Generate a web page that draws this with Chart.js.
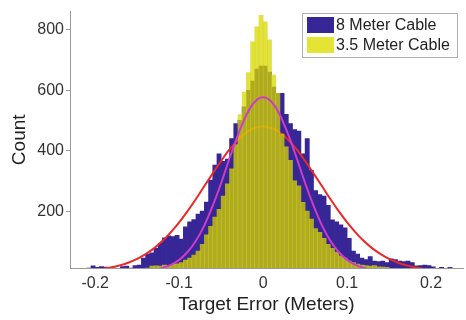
<!DOCTYPE html>
<html>
<head>
<meta charset="utf-8">
<script src="https://cdn.jsdelivr.net/npm/chart.js@4.4.1/dist/chart.umd.min.js"></script>
<style>
  html, body { margin: 0; padding: 0; background: #fff; }
  #wrap { width: 466px; height: 320px; }
</style>
</head>
<body>
<div id="wrap"><canvas id="chart" width="466" height="320"></canvas></div>
<script>
// histogram bin centres (bin width 0.005 m)
const binCenters = [
  -0.2275, -0.2225, -0.2175, -0.2125, -0.2075, -0.2025, -0.1975, -0.1925, -0.1875, -0.1825,
  -0.1775, -0.1725, -0.1675, -0.1625, -0.1575, -0.1525, -0.1475, -0.1425, -0.1375, -0.1325,
  -0.1275, -0.1225, -0.1175, -0.1125, -0.1075, -0.1025, -0.0975, -0.0925, -0.0875, -0.0825,
  -0.0775, -0.0725, -0.0675, -0.0625, -0.0575, -0.0525, -0.0475, -0.0425, -0.0375, -0.0325,
  -0.0275, -0.0225, -0.0175, -0.0125, -0.0075, -0.0025, 0.0025, 0.0075, 0.0125, 0.0175,
  0.0225, 0.0275, 0.0325, 0.0375, 0.0425, 0.0475, 0.0525, 0.0575, 0.0625, 0.0675,
  0.0725, 0.0775, 0.0825, 0.0875, 0.0925, 0.0975, 0.1025, 0.1075, 0.1125, 0.1175,
  0.1225, 0.1275, 0.1325, 0.1375, 0.1425, 0.1475, 0.1525, 0.1575, 0.1625, 0.1675,
  0.1725, 0.1775, 0.1825, 0.1875, 0.1925, 0.1975, 0.2025, 0.2075, 0.2125, 0.2175,
  0.2225, 0.2275
];

const cable8m = [
  0, 0, 0, 10, 12, 19, 14, 17, 15, 10,
  12, 11, 17, 18, 12, 20, 22, 45, 58, 62,
  77, 94, 112, 118, 116, 120, 108, 148, 165, 172,
  190, 200, 230, 303, 352, 390, 365, 372, 440, 490,
  500, 545, 600, 630, 670, 680, 680, 660, 610, 590,
  590, 520, 490, 470, 465, 390, 440, 335, 268, 255,
  250, 219, 171, 165, 155, 145, 110, 68, 58, 45,
  40, 50, 35, 33, 35, 30, 42, 40, 35, 33,
  35, 30, 19, 20, 22, 20, 16, 10, 14, 8,
  14, 10
];

const cable35m = [
  0, 0, 0, 0, 0, 0, 0, 0, 0, 0,
  0, 0, 0, 0, 0, 0, 0, 8, 12, 18,
  19, 18, 22, 20, 24, 26, 30, 38, 45, 55,
  68, 90, 122, 150, 180, 206, 250, 290, 340, 420,
  519, 594, 658, 760, 810, 848, 826, 767, 650, 590,
  455, 413, 368, 300, 284, 229, 200, 174, 142, 130,
  110, 90, 77, 65, 52, 45, 35, 30, 25, 22,
  20, 18, 20, 16, 15, 14, 10, 8, 0, 0,
  0, 0, 0, 0, 0, 0, 0, 0, 0, 0,
  0, 0
];

// fitted normal curves
const fitX = [
  -0.22, -0.21, -0.20, -0.19, -0.18, -0.17, -0.16, -0.15, -0.14, -0.13, -0.12,
  -0.11, -0.10, -0.09, -0.08, -0.07, -0.06, -0.05, -0.04, -0.03, -0.02, -0.01,
  0,
  0.01, 0.02, 0.03, 0.04, 0.05, 0.06, 0.07, 0.08, 0.09, 0.10, 0.11,
  0.12, 0.13, 0.14, 0.15, 0.16, 0.17, 0.18, 0.19, 0.20, 0.21, 0.22
];
const fitWide = [
  2.6, 4, 6.4, 9.7, 14.5, 21, 30, 42, 58, 77, 101,
  130, 163, 200, 240, 283, 325, 366, 404, 435, 460, 475,
  480,
  475, 460, 435, 404, 366, 325, 283, 240, 200, 163, 130,
  101, 77, 58, 42, 30, 21, 14.5, 9.7, 6.4, 4, 2.6
];
const fitNarrow = [
  0, 0, 0, 0, 0, 0.1, 0.5, 1.3, 2.9, 6, 11.8,
  22, 39, 65, 102, 153, 218, 293, 375, 452, 518, 562,
  577,
  562, 518, 452, 375, 293, 218, 153, 102, 65, 39, 22,
  11.8, 6, 2.9, 1.3, 0.5, 0.1, 0, 0, 0, 0, 0
];

const xTicks = [-0.2, -0.1, 0, 0.1, 0.2];
const yTicks = [200, 400, 600, 800];
const seriesNames = ['8 Meter Cable', '3.5 Meter Cable'];

const BLUE = 'rgb(54,38,150)';
const YELLOW = 'rgba(215,215,0,0.75)';
const YELLOW_KEY = 'rgb(228,228,52)';
const FONT = '"Liberation Sans", Arial, Helvetica, sans-serif';

function pts(xs, ys) {
  return xs.map((x, i) => ({ x: x, y: ys[i] }));
}

// legend box inside the plot, top right
const insideLegend = {
  id: 'insideLegend',
  afterDraw(chart) {
    const ctx = chart.ctx;
    const x0 = 302, y0 = 13, w = 155, h = 44;
    ctx.save();
    ctx.fillStyle = '#fff';
    ctx.fillRect(x0, y0, w, h);
    ctx.strokeStyle = '#b0b0b0';
    ctx.lineWidth = 1;
    ctx.strokeRect(x0 + 0.5, y0 + 0.5, w, h);
    const keys = [BLUE, YELLOW_KEY];
    ctx.font = '16px ' + FONT;
    ctx.textBaseline = 'middle';
    ctx.fillStyle = '#222';
    keys.forEach((c, i) => {
      const yy = y0 + 4 + i * 20;
      ctx.fillStyle = c;
      ctx.fillRect(x0 + 5, yy, 27, 16);
      ctx.fillStyle = '#222';
      ctx.fillText(seriesNames[i], x0 + 34, yy + 9);
    });
    ctx.restore();
  }
};

new Chart(document.getElementById('chart').getContext('2d'), {
  type: 'bar',
  data: {
    datasets: [
      {
        type: 'bar',
        label: seriesNames[0],
        data: pts(binCenters, cable8m),
        backgroundColor: BLUE,
        borderWidth: 0,
        barPercentage: 1,
        categoryPercentage: 1,
        grouped: false,
        order: 4
      },
      {
        type: 'line',
        label: 'fit wide',
        data: pts(fitX, fitWide),
        borderColor: 'rgb(235,40,40)',
        borderWidth: 2,
        pointRadius: 0,
        cubicInterpolationMode: 'monotone',
        fill: false,
        order: 3
      },
      {
        type: 'bar',
        label: seriesNames[1],
        data: pts(binCenters, cable35m),
        backgroundColor: YELLOW,
        borderWidth: 0,
        barPercentage: 1,
        categoryPercentage: 1,
        grouped: false,
        order: 2
      },
      {
        type: 'line',
        label: 'fit narrow',
        data: pts(fitX, fitNarrow),
        borderColor: 'rgb(205,60,200)',
        borderWidth: 2,
        pointRadius: 0,
        cubicInterpolationMode: 'monotone',
        fill: false,
        order: 1
      }
    ]
  },
  options: {
    responsive: false,
    animation: false,
    layout: { padding: { top: 5, right: 3, left: 0, bottom: 0 } },
    plugins: {
      legend: { display: false },
      tooltip: { enabled: false }
    },
    scales: {
      x: {
        type: 'linear',
        min: -0.23,
        max: 0.238,
        offset: false,
        grid: { drawOnChartArea: false, drawTicks: false },
        border: { color: '#999', width: 1 },
        afterBuildTicks: s => { s.ticks = xTicks.map(v => ({ value: v })); },
        afterFit: s => { s.height = 52; },
        ticks: {
          padding: 6,
          color: '#333',
          font: { family: FONT, size: 16 },
          callback: v => String(v)
        },
        title: {
          display: true,
          text: 'Target Error (Meters)',
          color: '#222',
          font: { family: FONT, size: 19 },
          padding: { top: 0, bottom: 4 }
        }
      },
      y: {
        min: 12,
        max: 860,
        grid: { drawOnChartArea: false, drawTicks: true, tickLength: 4, color: '#999' },
        border: { color: '#999', width: 1 },
        afterBuildTicks: s => { s.ticks = yTicks.map(v => ({ value: v })); },
        afterFit: s => { s.width = 70; },
        ticks: {
          padding: 2,
          color: '#333',
          font: { family: FONT, size: 16 }
        },
        title: {
          display: true,
          text: 'Count',
          color: '#222',
          font: { family: FONT, size: 19 },
          padding: { top: 8, bottom: 0 }
        }
      }
    }
  },
  plugins: [insideLegend]
});
</script>
</body>
</html>
